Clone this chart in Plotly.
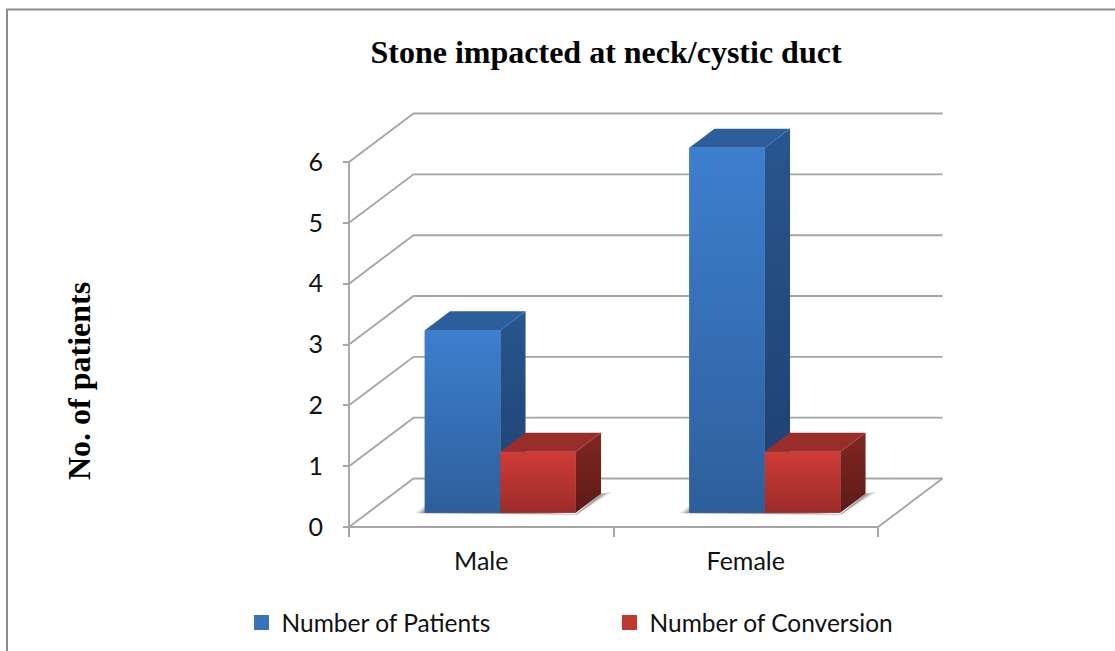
import plotly.graph_objects as go

# ---- data ----
categories = ["Male", "Female"]
patients = [3, 6]
conversions = [1, 1]
series_names = ["Number of Patients", "Number of Conversion"]
y_ticks = [0, 1, 2, 3, 4, 5, 6]
title_text = "Stone impacted at neck/cystic duct"
y_title = "No. of patients"

# ---- page geometry (pixels) ----
W, H = 1115, 651
X0_PX, Y0_PX = 349, 527
PX_PER_CAT, PX_PER_UNIT = 264.5, 60.83
# oblique depth of the 3-D box, data units
DEPTH_X, DEPTH_Y = 64.5 / PX_PER_CAT, 48.5 / PX_PER_UNIT
BAR_W = 75.5 / PX_PER_CAT
BAR_FRONT, BAR_BACK = 14.3 / 48.5, 33.3 / 48.5   # fraction of the depth
GAP = (1 - 2 * BAR_W) / 2
GRID = "#a6a6a6"
TEXT = "#111111"


def proj(x, y, d):
    return x + d * DEPTH_X, y + d * DEPTH_Y


fig = go.Figure()


def line(xs, ys, width=1.9):
    fig.add_trace(go.Scatter(x=xs, y=ys, mode="lines", showlegend=False, hoverinfo="skip",
                             line=dict(color=GRID, width=width)))


n = len(categories)
# walls and floor
for t in y_ticks:
    bx, by = proj(0, t, 1)
    ex, ey = proj(n, t, 1)
    line([0, bx, ex], [t, by, ey])
line([0, 0], [y_ticks[0], y_ticks[-1]])
fx, fy = proj(n, 0, 1)
line([0, n, fx], [0, 0, fy])


def poly(pts, color=None, grad=None):
    xs = [p[0] for p in pts] + [pts[0][0]]
    ys = [p[1] for p in pts] + [pts[0][1]]
    kw = dict(x=xs, y=ys, mode="lines", fill="toself", showlegend=False, hoverinfo="skip",
              line=dict(width=0))
    if grad:
        kw["fillgradient"] = dict(type="vertical", colorscale=[[0, grad[0]], [1, grad[1]]])
    else:
        kw["fillcolor"] = color
    fig.add_trace(go.Scatter(**kw))


styles = [
    dict(solid="#3a72bb", front=("#2e5f9c", "#3d7fcf"), top="#2c5e9c", side=("#1f3f6f", "#28568f")),
    dict(solid="#c0392f", front=("#9c2c29", "#cf3c37"), top="#992d2a", side=("#5e1a16", "#802722")),
]
values = [patients, conversions]

# real bars (front faces) – positioned through the axes
for s, (vals, st) in enumerate(zip(values, styles)):
    xs, bases = [], []
    for i in range(n):
        x, b = proj(i + GAP + s * BAR_W, 0, BAR_FRONT)
        xs.append(x)
        bases.append(b)
    fig.add_trace(go.Bar(x=xs, y=vals, base=bases, width=BAR_W, offset=0, name=series_names[s],
                         showlegend=False,
                         marker=dict(color=st["solid"], line=dict(width=0)), hoverinfo="skip"))

# soft floor shadows
for i in range(n):
    fl = proj(i + GAP, 0, BAR_FRONT)
    fr = proj(i + GAP + 2 * BAR_W, 0, BAR_FRONT)
    br = proj(i + GAP + 2 * BAR_W, 0, BAR_BACK)
    for k, col in [(1.0, "rgba(110,110,110,0.16)"), (0.7, "rgba(90,90,90,0.22)"), (0.4, "rgba(70,70,70,0.30)")]:
        poly([(fl[0] - 0.038 * k, fl[1] - 0.01), (fl[0], fl[1] + 0.12 * k), (fr[0], fr[1] - 0.025),
              (br[0], br[1]), (br[0] + 0.045 * k, br[1] + 0.035 * k), (fr[0] + 0.004, fr[1] - 0.03)],
             color=col)

# 3-D faces
for s, (vals, st) in enumerate(zip(values, styles)):
    for i, v in enumerate(vals):
        xl = i + GAP + s * BAR_W
        xr = xl + BAR_W
        fl = proj(xl, 0, BAR_FRONT)
        fr = proj(xr, 0, BAR_FRONT)
        tl = proj(xl, v, BAR_FRONT)
        tr = proj(xr, v, BAR_FRONT)
        bl = proj(xl, v, BAR_BACK)
        br = proj(xr, v, BAR_BACK)
        b0 = proj(xr, 0, BAR_BACK)
        poly([fr, b0, br, tr], grad=st["side"])
        poly([tl, bl, br, tr], color=st["top"])
        poly([fl, fr, tr, tl], grad=st["front"])

# legend entries
for name, st in zip(series_names, styles):
    fig.add_trace(go.Scatter(x=[None], y=[None], mode="markers", name=name, hoverinfo="skip",
                             marker=dict(symbol="square", size=15, color=st["solid"], line=dict(width=0))))

fig.update_layout(
    width=W, height=H, margin=dict(l=0, r=0, t=0, b=0, pad=0, autoexpand=False),
    paper_bgcolor="white", plot_bgcolor="white", barmode="overlay",
    font=dict(family="Lato", size=25, color=TEXT),
    title=dict(text=title_text, x=606 / W, xanchor="center", xref="paper",
               y=1 - 52 / H, yanchor="middle", yref="paper",
               font=dict(family="Liberation Serif", size=32, color="black", weight="bold")),
    xaxis=dict(range=[-X0_PX / PX_PER_CAT, (W - X0_PX) / PX_PER_CAT], domain=[0, 1],
               anchor="free", position=(H - Y0_PX) / H, showgrid=False, zeroline=False, showline=False,
               tickmode="array", tickvals=[i + 0.5 for i in range(n)], ticktext=categories,
               ticks="", ticklabelstandoff=17,
               minor=dict(tickmode="array", tickvals=list(range(n + 1)), ticks="outside",
                          ticklen=9, tickcolor=GRID, tickwidth=1.9, showgrid=False)),
    yaxis=dict(range=[-(H - Y0_PX) / PX_PER_UNIT, Y0_PX / PX_PER_UNIT], domain=[0, 1],
               anchor="free", position=X0_PX / W, showgrid=False, zeroline=False, showline=False,
               tickmode="array", tickvals=y_ticks, ticks="outside", ticklen=6,
               tickcolor=GRID, tickwidth=1.9, ticklabelstandoff=15),
    legend=dict(orientation="h", xref="paper", yref="paper", x=241.5 / W, y=1 - 622.5 / H,
                xanchor="left", yanchor="middle", entrywidth=323, entrywidthmode="pixels",
                bgcolor="rgba(0,0,0,0)", font=dict(family="Lato", size=24.5, color=TEXT)),
    annotations=[dict(text=f"<b>{y_title}</b>", xref="paper", yref="paper", x=79 / W, y=1 - 381 / H,
                      textangle=-90, showarrow=False, xanchor="center", yanchor="middle",
                      font=dict(family="Liberation Serif", size=32, color="black"))],
    shapes=[dict(type="path", xref="paper", yref="paper",
                 path=f"M {7 / W} 0 L {7 / W} {1 - 9.5 / H} L 1 {1 - 9.5 / H}",
                 line=dict(color="#8c8c8c", width=2))],
)

fig.write_html("out.html", config=dict(displayModeBar=False),
               post_script="document.body.style.margin='0';document.body.style.overflow='hidden';")
